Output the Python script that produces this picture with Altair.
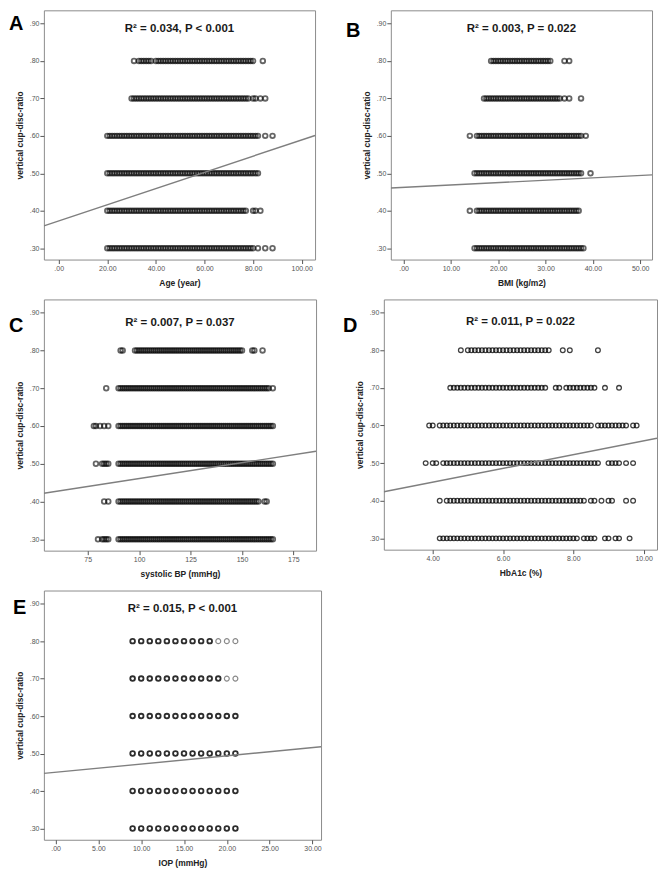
import altair as alt
import pandas as pd

FONT = "Liberation Sans"
LEVELS = [0.3, 0.4, 0.5, 0.6, 0.7, 0.8]
Y_TICKS = [0.3, 0.4, 0.5, 0.6, 0.7, 0.8, 0.9]
Y_TITLE = "vertical cup-disc-ratio"

# ---------------- Panel A: Age ----------------
A_30 = [20,21,22,23,24,25,26,27,28,29,30,31,32,33,34,35,36,37,38,39,40,41,42,43,44,45,46,47,48,49,50,51,52,53,54,55,56,57,58,59,60,61,62,63,64,65,66,67,68,69,70,71,72,73,74,75,76,77,78,79,80,82,85,88]
A_40 = [20,21,22,23,24,25,26,27,28,29,30,31,32,33,34,35,36,37,38,39,40,41,42,43,44,45,46,47,48,49,50,51,52,53,54,55,56,57,58,59,60,61,62,63,64,65,66,67,68,69,70,71,72,73,74,75,76,77,80,81,83]
A_50 = [20,21,22,23,24,25,26,27,28,29,30,31,32,33,34,35,36,37,38,39,40,41,42,43,44,45,46,47,48,49,50,51,52,53,54,55,56,57,58,59,60,61,62,63,64,65,66,67,68,69,70,71,72,73,74,75,76,77,78,79,80,81,82]
A_60 = [20,21,22,23,24,25,26,27,28,29,30,31,32,33,34,35,36,37,38,39,40,41,42,43,44,45,46,47,48,49,50,51,52,53,54,55,56,57,58,59,60,61,62,63,64,65,66,67,68,69,70,71,72,73,74,75,76,77,78,79,80,81,82,85,88]
A_70 = [30,31,32,33,34,35,36,37,38,39,40,41,42,43,44,45,46,47,48,49,50,51,52,53,54,55,56,57,58,59,60,61,62,63,64,65,66,67,68,69,70,71,72,73,74,75,76,77,78,80,81,83,85]
A_80 = [31,33,34,35,36,37,38,40,41,42,43,44,45,46,47,48,49,50,51,52,53,54,55,56,57,58,59,60,61,62,63,64,65,66,67,68,69,70,71,72,73,74,75,76,77,78,79,80,84]

# ---------------- Panel B: BMI ----------------
B_30 = [15,15.5,16,16.5,17,17.5,18,18.5,19,19.5,20,20.5,21,21.5,22,22.5,23,23.5,24,24.5,25,25.5,26,26.5,27,27.5,28,28.5,29,29.5,30,30.5,31,31.5,32,32.5,33,33.5,34,34.5,35,35.5,36,36.5,37,37.5,38]
B_40 = [14,15.5,16,16.5,17,17.5,18,18.5,19,19.5,20,20.5,21,21.5,22,22.5,23,23.5,24,24.5,25,25.5,26,26.5,27,27.5,28,28.5,29,29.5,30,30.5,31,31.5,32,32.5,33,33.5,34,34.5,35,35.5,36,36.5,37]
B_50 = [15,15.5,16,16.5,17,17.5,18,18.5,19,19.5,20,20.5,21,21.5,22,22.5,23,23.5,24,24.5,25,25.5,26,26.5,27,27.5,28,28.5,29,29.5,30,30.5,31,31.5,32,32.5,33,33.5,34,34.5,35,35.5,36,36.5,37,37.5,39.5]
B_60 = [14,15.5,16,16.5,17,17.5,18,18.5,19,19.5,20,20.5,21,21.5,22,22.5,23,23.5,24,24.5,25,25.5,26,26.5,27,27.5,28,28.5,29,29.5,30,30.5,31,31.5,32,32.5,33,33.5,34,34.5,35,35.5,36,36.5,37,37.5,38.5]
B_70 = [17,17.5,18,18.5,19,19.5,20,20.5,21,21.5,22,22.5,23,23.5,24,24.5,25,25.5,26,26.5,27,27.5,28,28.5,29,29.5,30,30.5,31,31.5,32,32.5,33,34,35,37.5]
B_80 = [18.5,19,19.5,20,20.5,21,21.5,22,22.5,23,23.5,24,24.5,25,25.5,26,26.5,27,27.5,28,28.5,29,29.5,30,30.5,31,34,35]

# ---------------- Panel C: systolic BP ----------------
C_30 = [80,82,83,84,85,90,91,92,93,94,95,96,97,98,99,100,101,102,103,104,105,106,107,108,109,110,111,112,113,114,115,116,117,118,119,120,121,122,123,124,125,126,127,128,129,130,131,132,133,134,135,136,137,138,139,140,141,142,143,144,145,146,147,148,149,150,151,152,153,154,155,156,157,158,159,160,161,162,163,164,165]
C_40 = [83,85,90,91,92,93,94,95,96,97,98,99,100,101,102,103,104,105,106,107,108,109,110,111,112,113,114,115,116,117,118,119,120,121,122,123,124,125,126,127,128,129,130,131,132,133,134,135,136,137,138,139,140,141,142,143,144,145,146,147,148,149,150,151,152,153,154,155,156,157,158,161,162]
C_50 = [79,82,83,84,85,90,91,92,93,94,95,96,97,98,99,100,101,102,103,104,105,106,107,108,109,110,111,112,113,114,115,116,117,118,119,120,121,122,123,124,125,126,127,128,129,130,131,132,133,134,135,136,137,138,139,140,141,142,143,144,145,146,147,148,149,150,151,152,153,154,155,156,157,158,159,160,161,162,163,164,165]
C_60 = [78,79,81,83,85,90,91,92,93,94,95,96,97,98,99,100,101,102,103,104,105,106,107,108,109,110,111,112,113,114,115,116,117,118,119,120,121,122,123,124,125,126,127,128,129,130,131,132,133,134,135,136,137,138,139,140,141,142,143,144,145,146,147,148,149,150,151,152,153,154,155,156,157,158,159,160,161,162,163,164,165]
C_70 = [84,90,91,92,93,94,95,96,97,98,99,100,101,102,103,104,105,106,107,108,109,110,111,112,113,114,115,116,117,118,119,120,121,122,123,124,125,126,127,128,129,130,131,132,133,134,135,136,137,138,139,140,141,142,143,144,145,146,147,148,149,150,151,152,153,154,155,156,157,158,159,160,161,162,163,165]
C_80 = [91,92,98,99,100,101,102,103,104,105,106,107,108,109,110,111,112,113,114,115,116,117,118,119,120,121,122,123,124,125,126,127,128,129,130,131,132,133,134,135,136,137,138,139,140,141,142,143,144,145,146,147,148,149,150,155,156,160]

# ---------------- Panel D: HbA1c ----------------
D_30 = [4.2,4.3,4.4,4.5,4.6,4.7,4.8,4.9,5.0,5.1,5.2,5.3,5.4,5.5,5.6,5.7,5.8,5.9,6.0,6.1,6.2,6.3,6.4,6.5,6.6,6.7,6.8,6.9,7.0,7.1,7.2,7.3,7.4,7.5,7.6,7.7,7.8,7.9,8.0,8.1,8.3,8.4,8.5,8.6,8.9,9.0,9.2,9.3,9.6]
D_40 = [4.2,4.4,4.5,4.6,4.7,4.8,4.9,5.0,5.1,5.2,5.3,5.4,5.5,5.6,5.7,5.8,5.9,6.0,6.1,6.2,6.3,6.4,6.5,6.6,6.7,6.8,6.9,7.0,7.1,7.2,7.3,7.4,7.5,7.6,7.7,7.8,7.9,8.0,8.1,8.2,8.3,8.5,8.6,8.8,9.0,9.1,9.5,9.7]
D_50 = [3.8,4.0,4.1,4.3,4.4,4.5,4.6,4.7,4.8,4.9,5.0,5.1,5.2,5.3,5.4,5.5,5.6,5.7,5.8,5.9,6.0,6.1,6.2,6.3,6.4,6.5,6.6,6.7,6.8,6.9,7.0,7.1,7.2,7.3,7.4,7.5,7.6,7.7,7.8,7.9,8.0,8.1,8.2,8.3,8.4,8.5,8.6,8.7,9.0,9.1,9.2,9.3,9.5,9.7]
D_60 = [3.9,4.0,4.2,4.3,4.4,4.5,4.6,4.7,4.8,4.9,5.0,5.1,5.2,5.3,5.4,5.5,5.6,5.7,5.8,5.9,6.0,6.1,6.2,6.3,6.4,6.5,6.6,6.7,6.8,6.9,7.0,7.1,7.2,7.3,7.4,7.5,7.6,7.7,7.8,7.9,8.0,8.1,8.2,8.3,8.4,8.5,8.7,8.8,8.9,9.0,9.1,9.2,9.3,9.4,9.5,9.7,9.8]
D_70 = [4.5,4.6,4.7,4.8,4.9,5.0,5.1,5.2,5.3,5.4,5.5,5.6,5.7,5.8,5.9,6.0,6.1,6.2,6.3,6.4,6.5,6.6,6.7,6.8,6.9,7.0,7.1,7.2,7.5,7.6,7.8,7.9,8.0,8.1,8.2,8.3,8.4,8.5,8.6,8.9,9.3]
D_80 = [4.8,5.0,5.1,5.2,5.3,5.4,5.5,5.6,5.7,5.8,5.9,6.0,6.1,6.2,6.3,6.4,6.5,6.6,6.7,6.8,6.9,7.0,7.1,7.2,7.3,7.7,7.9,8.7]

# ---------------- Panel E: IOP ----------------
E_DARK_30 = [9,10,11,12,13,14,15,16,17,18,19,20,21]
E_DARK_40 = [9,10,11,12,13,14,15,16,17,18,19,20,21]
E_DARK_50 = [9,10,11,12,13,14,15,16,17,18,19,20,21]
E_DARK_60 = [9,10,11,12,13,14,15,16,17,18,19,20,21]
E_DARK_70 = [9,10,11,12,13,14,15,16,17,18,19]
E_DARK_80 = [9,10,11,12,13,14,15,16,17,18]
E_LIGHT_70 = [20,21]
E_LIGHT_80 = [19,20,21]

# fitted regression line end points (x at frame edges, y)
FIT_A = ([-6.1, 105.5], [0.360, 0.601])
FIT_B = ([-2.7, 52.5], [0.461, 0.496])
FIT_C = ([53.7, 186.0], [0.422, 0.533])
FIT_D = ([2.61, 10.38], [0.424, 0.566])
FIT_E = ([-1.36, 31.0], [0.447, 0.518])

STATS = ["R² = 0.034, P < 0.001", "R² = 0.003, P = 0.022", "R² = 0.007, P = 0.037",
         "R² = 0.011, P = 0.022", "R² = 0.015, P < 0.001"]
LETTERS = ["A", "B", "C", "D", "E"]
X_TITLES = ["Age (year)", "BMI (kg/m2)", "systolic BP (mmHg)", "HbA1c (%)", "IOP (mmHg)"]
X_TICKS = [[0, 20, 40, 60, 80, 100], [0, 10, 20, 30, 40, 50], [75, 100, 125, 150, 175],
           [4, 6, 8, 10], [0, 5, 10, 15, 20, 25, 30]]

LAB2 = "datum.value == 0 ? '.00' : format(datum.value, '.2f')"
LABINT = "format(datum.value, 'd')"


def rows_df(rows):
    recs = []
    for lvl, vals in zip(LEVELS, rows):
        for v in vals:
            recs.append({"x": v, "y": lvl})
    return pd.DataFrame(recs)


def panel(i, rows, fit, dom, lab, w, h, sy, lx, ly, light=None, sw=1.8, op=0.6):
    xs = alt.Scale(domain=dom, nice=False, zero=False)
    ys = alt.Scale(domain=[0.27, 0.935], nice=False, zero=False)
    xax = alt.Axis(values=X_TICKS[i], labelExpr=lab, title=X_TITLES[i], grid=False,
                   domain=False, tickSize=4, titlePadding=7)
    yax = alt.Axis(values=Y_TICKS, labelExpr="slice(format(datum.value, '.2f'), 1)",
                   title=Y_TITLE, grid=False, domain=False, tickSize=4, titlePadding=5)
    X = alt.X("x:Q", scale=xs, axis=xax)
    Y = alt.Y("y:Q", scale=ys, axis=yax)
    layers = []
    if light is None:
        pts = alt.Chart(rows_df(rows)).mark_point(
            shape="circle", filled=False, size=22, strokeWidth=sw, color="#000000",
            opacity=op, clip=True).encode(x=X, y=Y)
        layers.append(pts)
    else:
        pts = alt.Chart(rows_df(rows)).mark_point(
            shape="circle", filled=False, size=22, strokeWidth=1.8, color="#2e2e2e",
            opacity=1, clip=True).encode(x=X, y=Y)
        lpts = alt.Chart(rows_df(light)).mark_point(
            shape="circle", filled=False, size=24, strokeWidth=1.2, color="#8a8a8a",
            opacity=1, clip=True).encode(x="x:Q", y="y:Q")
        layers += [pts, lpts]
    fdf = pd.DataFrame({"x": fit[0], "y": fit[1]})
    line = alt.Chart(fdf).mark_line(color="#7f7f7f", strokeWidth=1.4, clip=True).encode(
        x="x:Q", y="y:Q")
    stat = alt.Chart(pd.DataFrame({"t": [STATS[i]]})).mark_text(
        font=FONT, fontSize=11.5, fontWeight="bold", color="#1a1a1a",
        align="center", baseline="middle").encode(
        x=alt.value(w / 2), y=alt.value(sy), text="t:N")
    letter = alt.Chart(pd.DataFrame({"t": [LETTERS[i]]})).mark_text(
        font=FONT, fontSize=20, fontWeight="bold", color="#000000",
        align="left", baseline="alphabetic").encode(
        x=alt.value(lx), y=alt.value(ly), text="t:N")
    layers += [line, stat, letter]
    return alt.layer(*layers).properties(width=w, height=h)


pA = panel(0, [A_30, A_40, A_50, A_60, A_70, A_80], FIT_A, [-6.1, 105.5], LAB2, 272, 250, 19, -35, 20)
pB = panel(1, [B_30, B_40, B_50, B_60, B_70, B_80], FIT_B, [-2.7, 52.5], LAB2, 262, 250, 19, -45, 27)
pC = panel(2, [C_30, C_40, C_50, C_60, C_70, C_80], FIT_C, [53.7, 186.0], LABINT, 273, 252, 24, -35, 33)
pD = panel(3, [D_30, D_40, D_50, D_60, D_70, D_80], FIT_D, [2.61, 10.38], LAB2, 274, 251, 23, -41, 33,
           sw=1.3, op=0.75)
pE = panel(4, [E_DARK_30, E_DARK_40, E_DARK_50, E_DARK_60, E_DARK_70, E_DARK_80], FIT_E,
           [-1.36, 31.0], LAB2, 278, 250, 19, -31, 24,
           light=[[], [], [], [], E_LIGHT_70, E_LIGHT_80])

row1 = alt.hconcat(pA, pB, spacing=29)
row2 = alt.hconcat(pC, pD, spacing=25)

chart = alt.vconcat(row1, row2, pE, spacing=11, padding=0, background="white").configure_view(
    stroke="#8c8c8c", strokeWidth=1
).configure_axis(
    grid=False, domain=False, tickSize=4, tickWidth=1, tickColor="#555555",
    labelFont=FONT, labelFontSize=7, labelColor="#555555", labelPadding=1,
    titleFont=FONT, titleFontSize=8.5, titleFontWeight="bold", titleColor="#222222"
)

chart.save("out.html", embed_options={"renderer": "svg", "actions": False})
